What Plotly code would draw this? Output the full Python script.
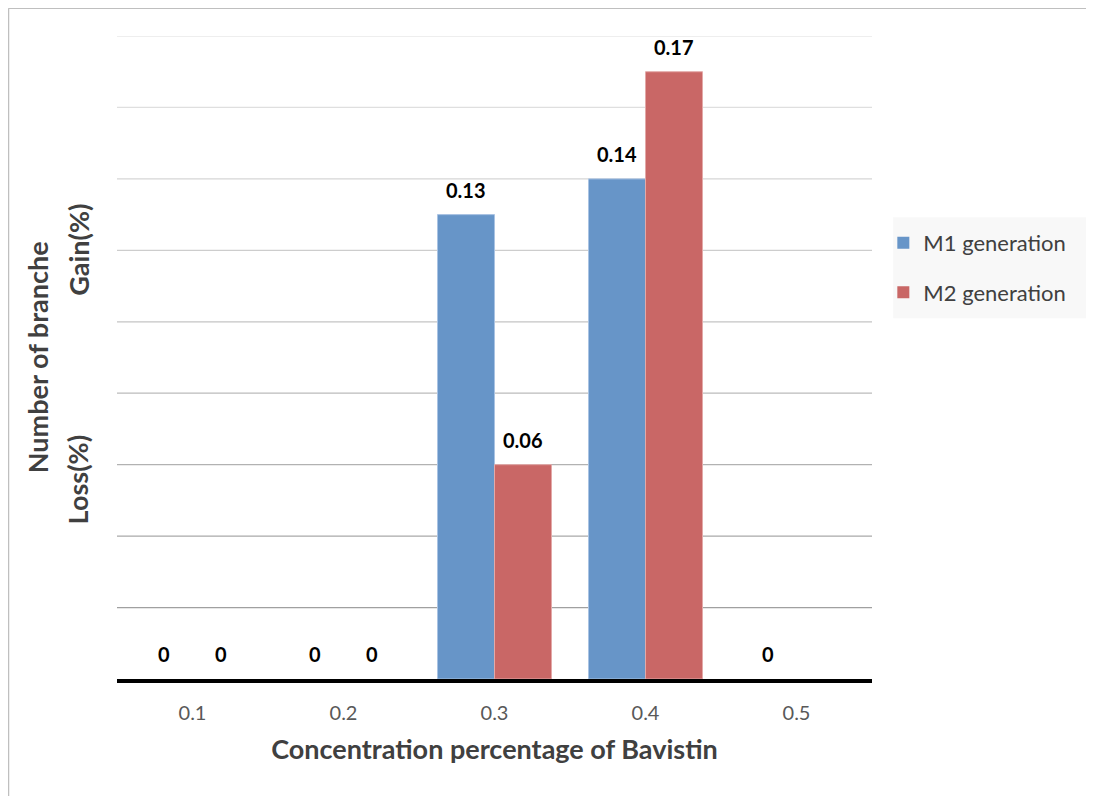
import plotly.graph_objects as go

categories = ["0.1", "0.2", "0.3", "0.4", "0.5"]
m1_values = [0, 0, 0.13, 0.14, 0]
m2_values = [0, 0, 0.06, 0.17, None]
series_names = ["M1 generation", "M2 generation"]
grid_values = [0.02, 0.04, 0.06, 0.08, 0.10, 0.12, 0.14, 0.16, 0.18]

FONT = "Lato, 'Open Sans', sans-serif"
BAR_SHIFT = 28.5  # half of a bar width in px (grouped bars)


def edge_widths(vals):
    return [0 if not v else 1 for v in vals]


fig = go.Figure()
fig.add_trace(go.Bar(
    x=categories, y=m1_values, name=series_names[0],
    marker=dict(color="#6795C8", line=dict(color="#A9C3E3", width=edge_widths(m1_values))),
    legendgroup="a",
))
fig.add_trace(go.Bar(
    x=categories, y=m2_values, name=series_names[1],
    marker=dict(color="#C96766", line=dict(color="#E3A9A8", width=edge_widths(m2_values))),
    legendgroup="b",
))

label_font = dict(family=FONT, size=20, color="#000000", weight="bold")
annotations = []
for vals, sign in ((m1_values, -1), (m2_values, 1)):
    for idx, v in enumerate(vals):
        if v is None:
            continue
        # categorical axis: position by category index
        annotations.append(dict(x=idx, y=v, xref="x", yref="y", text=f"<b>{v:g}</b>",
                                showarrow=False, xshift=sign * BAR_SHIFT, yshift=25,
                                xanchor="center", yanchor="middle", font=label_font))

# gridlines with a light-to-dark gradient (darker towards the bottom)
n = len(grid_values)
shapes = []
for i, g in enumerate(grid_values):
    t = i / (n - 1)
    c0, c1 = 160, 232
    c = int(c0 + (c1 - c0) * t)
    shapes.append(dict(type="line", xref="paper", yref="y", x0=0, x1=1, y0=g, y1=g,
                       line=dict(color=f"rgb({c},{c},{c})", width=1.3), layer="below"))
# legend background box
shapes.append(dict(type="rect", xref="paper", yref="paper", x0=1.028, x1=1.289,
                   y0=0.561, y1=0.718, fillcolor="#F8F8F8", line=dict(width=0), layer="below"))
# outer chart frame (left and top edges)
shapes.append(dict(type="line", xref="paper", yref="paper", x0=-0.1437, x1=1.35,
                   y0=1.043, y1=1.043, line=dict(color="#BFBFBF", width=1.5)))
shapes.append(dict(type="line", xref="paper", yref="paper", x0=-0.1437, x1=-0.1437,
                   y0=1.043, y1=-0.2, line=dict(color="#BFBFBF", width=1.5)))

title_font = dict(family=FONT, size=27, color="#404040")
annotations += [
    dict(text="<b>Number of branche</b>", xref="paper", yref="paper", x=-0.105, y=0.5,
         xanchor="center", yanchor="middle", textangle=-90, showarrow=False, font=title_font),
    dict(text="<b>Loss(%)</b>", xref="paper", yref="paper", x=-0.052, y=0.31,
         xanchor="center", yanchor="middle", textangle=-90, showarrow=False, font=title_font),
    dict(text="<b>Gain(%)</b>", xref="paper", yref="paper", x=-0.052, y=0.667,
         xanchor="center", yanchor="middle", textangle=-90, showarrow=False, font=title_font),
]

fig.update_layout(
    width=1086, height=788,
    margin=dict(l=109, r=222, t=28, b=117),
    paper_bgcolor="white", plot_bgcolor="white",
    barmode="group", bargap=0.245, bargroupgap=0,
    font=dict(family=FONT, color="#595959"),
    shapes=shapes, annotations=annotations,
    legend=dict(x=1.015, y=0.711, xanchor="left", yanchor="top",
                bgcolor="rgba(0,0,0,0)", font=dict(family=FONT, size=22, color="#404040"),
                tracegroupgap=18, itemwidth=30, traceorder="grouped"),
    xaxis=dict(
        showline=True, linecolor="#000000", linewidth=3.5,
        ticks="", tickfont=dict(family=FONT, size=20, color="#595959"),
        ticklabelstandoff=13,
        title=dict(text="<b>Concentration percentage of Bavistin</b>", standoff=18,
                   font=title_font),
        showgrid=False,
    ),
    yaxis=dict(range=[0, 0.18], showgrid=False, showticklabels=False, zeroline=False,
               showline=False, ticks=""),
)

fig.write_html("out.html")
